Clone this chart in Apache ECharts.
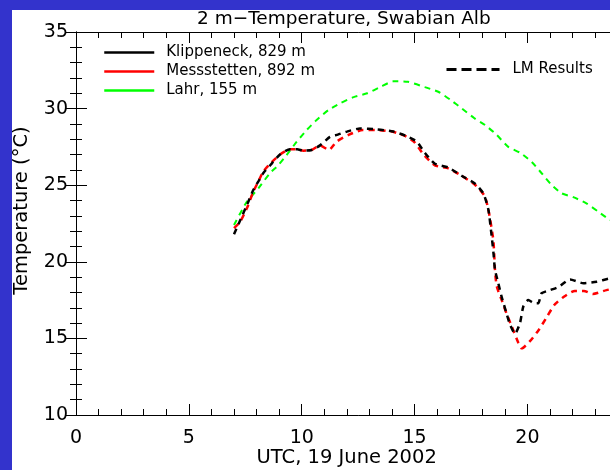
<!DOCTYPE html>
<html>
<head>
<meta charset="utf-8">
<script src="https://cdn.jsdelivr.net/npm/echarts@6/dist/echarts.min.js"></script>
<style>
  html, body { margin: 0; padding: 0; width: 610px; height: 470px; overflow: hidden; background: #3333cc; }
  #frame { position: absolute; left: 12px; top: 10px; width: 660px; height: 460px; background: #fff; }
  #chart { width: 660px; height: 460px; }
</style>
</head>
<body>
<div id="frame"><div id="chart"></div></div>
<script>
// model results, hours UTC on 19 June 2002
const klippeneckHours = [7.0, 7.27, 7.6, 7.86, 8.1, 8.3, 8.6, 9.04, 9.48, 9.8, 10.07, 10.44, 10.81, 11.25, 11.6, 12.0, 12.58, 13.3, 14.06, 14.65, 15.1, 15.46, 15.9, 16.5, 17.1, 17.68, 18.05, 18.27, 18.42, 18.5, 18.56, 18.71, 18.86, 19.08, 19.23, 19.45, 19.67, 19.82, 20.04, 20.3, 20.48, 20.63, 21.0, 21.37, 21.89, 22.48, 23.07, 23.59, 24.0];
const klippeneckTemp = [21.8, 22.7, 23.8, 24.7, 25.3, 25.8, 26.3, 27.0, 27.35, 27.35, 27.25, 27.3, 27.6, 28.15, 28.3, 28.5, 28.7, 28.65, 28.5, 28.2, 27.85, 27.1, 26.4, 26.15, 25.6, 25.1, 24.45, 23.4, 21.6, 20.5, 19.5, 18.6, 17.7, 16.6, 15.9, 15.3, 16.0, 17.1, 17.5, 17.3, 17.3, 17.95, 18.15, 18.35, 18.85, 18.6, 18.7, 18.9, 19.0];

const messstettenHours = [7.0, 7.27, 7.6, 7.86, 8.1, 8.3, 8.6, 9.04, 9.48, 9.8, 10.07, 10.44, 10.8, 11.2, 11.55, 12.1, 12.7, 13.3, 14.0, 14.6, 15.0, 15.4, 15.9, 16.5, 17.1, 17.7, 18.1, 18.27, 18.49, 18.56, 18.64, 18.86, 19.08, 19.3, 19.6, 19.75, 20.1, 20.5, 20.86, 21.2, 21.6, 22.1, 22.5, 22.9, 23.5, 24.0];
const messstettenTemp = [22.2, 22.6, 23.6, 24.6, 25.3, 25.9, 26.4, 27.0, 27.35, 27.35, 27.25, 27.3, 27.6, 27.3, 27.85, 28.3, 28.6, 28.6, 28.5, 28.2, 27.8, 27.0, 26.3, 26.1, 25.6, 25.0, 24.3, 23.4, 21.4, 19.5, 18.4, 17.5, 16.6, 15.8, 14.7, 14.35, 14.8, 15.55, 16.4, 17.2, 17.7, 18.1, 18.1, 17.9, 18.15, 18.3];

const lahrHours = [7.0, 7.56, 8.08, 8.6, 8.96, 9.33, 9.78, 10.22, 10.66, 11.18, 11.7, 12.3, 12.9, 13.47, 14.06, 14.7, 15.46, 16.05, 16.6, 17.1, 17.65, 18.12, 18.64, 19.15, 19.7, 20.2, 20.63, 21.05, 21.52, 22.03, 22.63, 23.14, 23.59, 24.0];
const lahrTemp = [22.4, 23.9, 24.8, 25.8, 26.3, 26.97, 27.84, 28.6, 29.26, 29.9, 30.35, 30.75, 31.0, 31.4, 31.78, 31.75, 31.4, 31.1, 30.56, 30.0, 29.37, 28.93, 28.28, 27.5, 27.1, 26.5, 25.78, 25.05, 24.47, 24.22, 23.8, 23.27, 22.8, 22.5];

const stationNames = ["Klippeneck, 829 m", "Messstetten, 892 m", "Lahr, 155 m"];
const stationColors = ["#000000", "#ff0000", "#00ff00"];
const stationWidths = [2.5, 2.5, 2];

const font = "DejaVu Sans";

function pairs(xs, ys) {
  return xs.map((x, i) => [x, ys[i]]);
}

const chart = echarts.init(document.getElementById("chart"));

const axisLine = { lineStyle: { color: "#000", width: 1 } };
const tick = { inside: true, length: 11, lineStyle: { color: "#000" } };
const minor = { show: true, splitNumber: 5, length: 6, lineStyle: { color: "#000" } };

const stationSeries = [
  pairs(klippeneckHours, klippeneckTemp),
  pairs(messstettenHours, messstettenTemp),
  pairs(lahrHours, lahrTemp),
].map((d, i) => ({
  name: stationNames[i],
  type: "line",
  data: d,
  symbol: "none",
  smooth: 0.2,
  z: 3 - i,
  lineStyle: { color: stationColors[i], width: stationWidths[i], type: [6, 5] },
  itemStyle: { color: stationColors[i] },
}));

// grid 0 runs to 25 h so the 1 h minor ticks stay even; grid 1 ends at 24 h and only carries the right-hand axis
const option = {
  animation: false,
  title: {
    text: "2 m\u2212Temperature, Swabian Alb",
    left: 185,
    top: 0,
    padding: 0,
    textStyle: { fontFamily: font, fontSize: 18.5, fontWeight: "normal", color: "#000" },
  },
  legend: [
    {
      left: 86,
      top: 30,
      orient: "vertical",
      itemWidth: 50,
      itemHeight: 14,
      itemGap: 4,
      selectedMode: false,
      itemStyle: { opacity: 0 },
      data: stationNames.map((n, i) => ({
        name: n,
        lineStyle: { type: "solid", width: 2.5, color: stationColors[i] },
      })),
      textStyle: { fontFamily: font, fontSize: 15, color: "#000", padding: [0, 0, 0, 7] },
    },
    {
      left: 428,
      top: 47,
      itemWidth: 53,
      itemHeight: 14,
      selectedMode: false,
      itemStyle: { opacity: 0 },
      data: [{ name: "LM Results", lineStyle: { type: [10, 5], width: 3, color: "#000" } }],
      textStyle: { fontFamily: font, fontSize: 15, color: "#000", padding: [0, 0, 0, 8] },
    },
  ],
  grid: [
    { left: 64, top: 22, width: 564.3, height: 383, outerBoundsMode: "none", containLabel: false },
    { left: 64, top: 22, width: 541.7, height: 383, outerBoundsMode: "none", containLabel: false },
  ],
  xAxis: [
    {
      type: "value",
      gridIndex: 0,
      min: 0,
      max: 25,
      interval: 5,
      position: "bottom",
      axisLine: axisLine,
      axisTick: tick,
      minorTick: minor,
      splitLine: { show: false },
      axisLabel: { fontFamily: font, fontSize: 19, color: "#000", margin: 14, showMaxLabel: false },
      name: "UTC, 19 June 2002",
      nameLocation: "middle",
      nameGap: 33,
      nameMoveOverlap: false,
      nameTextStyle: { fontFamily: font, fontSize: 19.5, color: "#000", padding: [0, 23, 0, 0] },
    },
    {
      type: "value",
      gridIndex: 0,
      min: 0,
      max: 25,
      interval: 5,
      position: "top",
      axisLine: axisLine,
      axisTick: tick,
      minorTick: minor,
      splitLine: { show: false },
      axisLabel: { show: false },
    },
    {
      type: "value",
      gridIndex: 1,
      min: 0,
      max: 24,
      show: false,
    },
  ],
  yAxis: [
    {
      type: "value",
      gridIndex: 0,
      min: 10,
      max: 35,
      interval: 5,
      position: "left",
      axisLine: axisLine,
      axisTick: tick,
      minorTick: minor,
      splitLine: { show: false },
      axisLabel: { fontFamily: font, fontSize: 19, color: "#000", margin: 8 },
      name: "Temperature (\u00b0C)",
      nameLocation: "middle",
      nameRotate: 90,
      nameGap: 44,
      nameMoveOverlap: false,
      nameTextStyle: { fontFamily: font, fontSize: 19.5, color: "#000", padding: [0, 0, 0, 26] },
    },
    {
      type: "value",
      gridIndex: 1,
      min: 10,
      max: 35,
      interval: 5,
      position: "right",
      axisLine: axisLine,
      axisTick: tick,
      minorTick: minor,
      splitLine: { show: false },
      axisLabel: { show: false },
    },
  ],
  series: [
    ...stationSeries,
    {
      name: "LM Results",
      type: "line",
      data: [],
      symbol: "none",
      lineStyle: { color: "#000", width: 2, type: [6, 5] },
      itemStyle: { color: "#000" },
    },
  ],
};

chart.setOption(option);
</script>
</body>
</html>
